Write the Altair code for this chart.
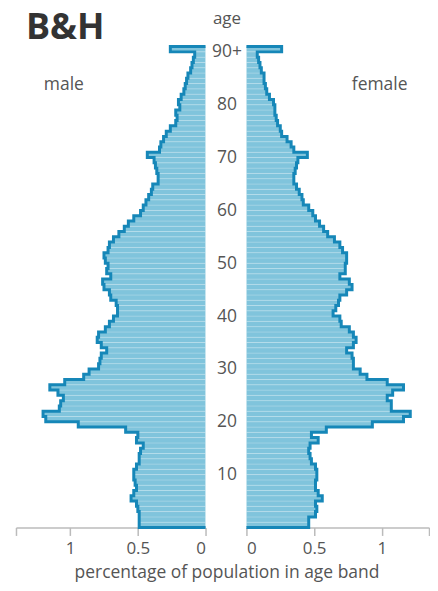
import altair as alt
import pandas as pd

ages = list(range(91))
male = [0.49, 0.49, 0.49, 0.50, 0.51, 0.55, 0.53, 0.51, 0.52, 0.53,
        0.53, 0.51, 0.49, 0.49, 0.48, 0.46, 0.51, 0.50, 0.59, 0.94,
        1.18, 1.20, 1.08, 1.07, 1.05, 1.09, 1.15, 1.04, 0.90, 0.86,
        0.79, 0.78, 0.77, 0.73, 0.77, 0.80, 0.79, 0.74, 0.71, 0.68,
        0.65, 0.65, 0.66, 0.70, 0.71, 0.75, 0.76, 0.70, 0.73, 0.72,
        0.74, 0.75, 0.72, 0.71, 0.68, 0.64, 0.60, 0.57, 0.53, 0.48,
        0.46, 0.44, 0.42, 0.40, 0.39, 0.35, 0.35, 0.36, 0.37, 0.38,
        0.43, 0.34, 0.33, 0.31, 0.29, 0.26, 0.22, 0.21, 0.22, 0.19,
        0.20, 0.18, 0.16, 0.15, 0.14, 0.13, 0.11, 0.10, 0.09, 0.08,
        0.26]
female = [0.46, 0.46, 0.51, 0.52, 0.51, 0.56, 0.53, 0.51, 0.51, 0.52,
          0.52, 0.51, 0.48, 0.47, 0.46, 0.47, 0.53, 0.48, 0.59, 0.93,
          1.16, 1.21, 1.07, 1.07, 1.04, 1.08, 1.16, 1.04, 0.89, 0.84,
          0.79, 0.79, 0.78, 0.74, 0.79, 0.81, 0.79, 0.76, 0.70, 0.69,
          0.64, 0.66, 0.68, 0.69, 0.74, 0.78, 0.76, 0.69, 0.73, 0.73,
          0.74, 0.74, 0.71, 0.69, 0.65, 0.60, 0.57, 0.54, 0.51, 0.49,
          0.46, 0.42, 0.41, 0.39, 0.37, 0.35, 0.35, 0.36, 0.37, 0.38,
          0.45, 0.35, 0.33, 0.30, 0.26, 0.25, 0.23, 0.22, 0.21, 0.21,
          0.20, 0.17, 0.15, 0.14, 0.13, 0.13, 0.11, 0.10, 0.09, 0.08,
          0.26]
age_ticks = [10, 20, 30, 40, 50, 60, 70, 80, 90]
x_ticks = [0, 0.5, 1]

FILL = "#80c4dc"
LINE = "#1687b8"
GREY = "#555555"
AXIS = "#bbbbbb"
FONT = "Open Sans"
H = 482
PX_PER_UNIT = 190 / 1.4
W_MALE, W_FEMALE = 190, 183


def bar_df(values):
    return pd.DataFrame({"age": ages, "age_top": [a + 1 for a in ages], "v": values})


def outline_df(values):
    rows = [{"i": 0, "v": 0.0, "y": 0}]
    for a, v in zip(ages, values):
        rows.append({"i": len(rows), "v": v, "y": a})
        rows.append({"i": len(rows), "v": v, "y": a + 1})
    rows.append({"i": len(rows), "v": 0.0, "y": ages[-1] + 1})
    return pd.DataFrame(rows)


def xaxis(dmax, title=None, **kw):
    args = dict(
        values=x_ticks + [dmax], format="~g",
        labelExpr="datum.value > 1.2 ? '' : datum.label",
        grid=False, tickSize=8, tickColor=AXIS, domainColor=AXIS,
        domainWidth=1.5, tickWidth=1.5,
        labelColor=GREY, labelFontSize=17, labelFont=FONT, labelPadding=5,
    )
    if title:
        args.update(title=title, titleFont=FONT, titleFontSize=17.5,
                    titleFontWeight="normal", titleColor=GREY, **kw)
    else:
        args.update(title=None)
    return alt.Axis(**args)


def panel(values, width, reverse, title_kw, y_axis, labels):
    dmax = width / PX_PER_UNIT
    xs = alt.Scale(domain=[0, dmax], reverse=reverse, nice=False)
    ys = alt.Scale(domain=[0, 91], nice=False)
    bars = alt.Chart(bar_df(values)).mark_bar(
        fill=FILL, stroke="#ffffff", strokeWidth=0.5, strokeOpacity=0.35
    ).encode(
        x=alt.X("v:Q", scale=xs, axis=xaxis(dmax, **title_kw)),
        x2=alt.datum(0),
        y=alt.Y("age:Q", scale=ys, axis=y_axis),
        y2="age_top:Q",
    )
    line = alt.Chart(outline_df(values)).mark_line(
        stroke=LINE, strokeWidth=3, strokeJoin="miter"
    ).encode(
        x=alt.X("v:Q", scale=xs),
        y=alt.Y("y:Q", scale=ys),
        order="i:Q",
    )
    layers = [bars, line]
    for txt, px, py, size, weight, color, align, base in labels:
        layers.append(
            alt.Chart(pd.DataFrame({"t": [txt]})).mark_text(
                font=FONT, fontSize=size, fontWeight=weight, color=color,
                align=align, baseline=base
            ).encode(text="t:N", x=alt.value(px), y=alt.value(py))
        )
    return alt.layer(*layers).properties(width=width, height=H)


male_panel = panel(
    male, W_MALE, True,
    dict(title="percentage of population in age band", titleX=211, titleY=45,
         titleAlign="center", titleBaseline="middle"),
    None,
    [("B&H", 10, -8, 36, "bold", "#333333", "left", "alphabetic"),
     ("male", 48, 39, 17.5, "normal", GREY, "center", "middle")],
)

yaxis = alt.Axis(
    values=age_ticks, labelExpr="datum.value == 90 ? '90+' : datum.label",
    ticks=False, tickSize=0, domain=False, grid=False,
    labelAlign="center", labelBaseline="middle", labelPadding=20,
    labelColor=GREY, labelFontSize=17.5, labelFont=FONT,
    title="age", titleAngle=0, titleX=-20, titleY=-28, titleAlign="center",
    titleBaseline="middle", titleFont=FONT, titleFontSize=17,
    titleFontWeight="normal", titleColor=GREY,
)

female_panel = panel(
    female, W_FEMALE, False, {}, yaxis,
    [("female", 133.5, 39, 17.5, "normal", GREY, "center", "middle")],
)

chart = alt.hconcat(male_panel, female_panel, spacing=41, bounds="flush").properties(
    padding={"left": 7, "top": 1, "right": 0, "bottom": 0}
).configure_view(stroke=None)

chart.save("out.html", embed_options={"renderer": "svg", "actions": False})
